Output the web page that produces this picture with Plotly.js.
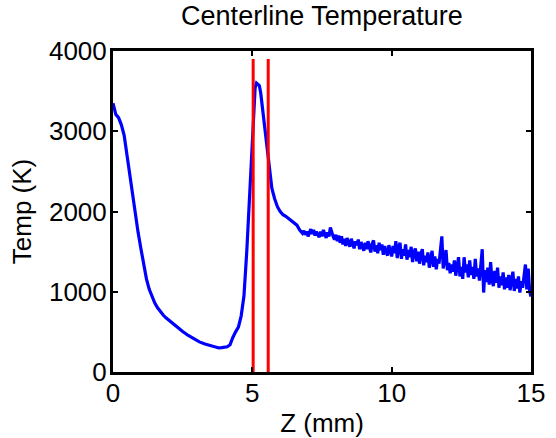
<!DOCTYPE html>
<html>
<head>
<meta charset="utf-8">
<script src="https://cdn.plot.ly/plotly-3.0.1.min.js"></script>
<style>html,body{margin:0;padding:0;background:#fff;}#chart{width:556px;height:438px;}</style>
</head>
<body>
<div id="chart"></div>
<script>
// Centerline temperature profile, Z in mm, T in K
var zMm = [0, 0.05, 0.1, 0.2, 0.3, 0.4, 0.5, 0.6, 0.7, 0.8, 0.9, 1.0, 1.1, 1.2, 1.3, 1.4, 1.5, 1.6, 1.7, 1.8, 1.9, 2.1, 2.3, 2.5, 2.7, 2.9, 3.1, 3.3, 3.5, 3.7, 3.8, 3.9,
  4.0, 4.1, 4.2, 4.25, 4.3, 4.4, 4.5, 4.6, 4.7, 4.8, 4.9, 5.0, 5.05, 5.1, 5.15, 5.2, 5.25, 5.3, 5.4, 5.5, 5.6, 5.65, 5.7, 5.8, 5.9, 6.0, 6.1, 6.2, 6.3, 6.4, 6.5, 6.6, 6.7, 6.8,
  6.85, 6.9, 6.95, 7.0, 7.05, 7.1, 7.15, 7.2, 7.25, 7.3, 7.35, 7.4, 7.45, 7.5, 7.55, 7.6, 7.65, 7.7, 7.75, 7.8, 7.85, 7.9, 7.95,
  8.0, 8.05, 8.1, 8.15, 8.2, 8.25, 8.3, 8.35, 8.4, 8.45, 8.5, 8.55, 8.6, 8.65, 8.7, 8.75, 8.8, 8.85, 8.9, 8.95,
  9.0, 9.05, 9.1, 9.15, 9.2, 9.25, 9.3, 9.35, 9.4, 9.45, 9.5, 9.55, 9.6, 9.65, 9.7, 9.75, 9.8, 9.85, 9.9, 9.95,
  10.0, 10.05, 10.1, 10.15, 10.2, 10.25, 10.3, 10.35, 10.4, 10.45, 10.5, 10.55, 10.6, 10.65, 10.7, 10.75, 10.8, 10.85, 10.9, 10.95,
  11.0, 11.05, 11.1, 11.15, 11.2, 11.25, 11.3, 11.35, 11.4, 11.45, 11.5, 11.55, 11.6, 11.65, 11.7, 11.75, 11.8, 11.85, 11.9, 11.95,
  12.0, 12.05, 12.1, 12.15, 12.2, 12.25, 12.3, 12.35, 12.4, 12.45, 12.5, 12.55, 12.6, 12.65, 12.7, 12.75, 12.8, 12.85, 12.9, 12.95,
  13.0, 13.05, 13.1, 13.15, 13.2, 13.25, 13.3, 13.35, 13.4, 13.45, 13.5, 13.55, 13.6, 13.65, 13.7, 13.75, 13.8, 13.85, 13.9, 13.95,
  14.0, 14.05, 14.1, 14.15, 14.2, 14.25, 14.3, 14.35, 14.4, 14.45, 14.5, 14.55, 14.6, 14.65, 14.7, 14.75, 14.8, 14.85, 14.9, 14.95, 15.0];
var tempK = [3350, 3280, 3210, 3170, 3080, 2950, 2700, 2420, 2180, 1960, 1740, 1540, 1340, 1160, 1030, 935, 860, 800, 750, 710, 675, 615, 560, 505, 455, 410, 375, 348, 327, 306, 300, 303,
  305, 315, 340, 390, 430, 500, 560, 700, 950, 1500, 2150, 2880, 3280, 3540, 3600, 3590, 3570, 3480, 3160, 2860, 2560, 2400, 2290, 2160, 2060, 2000, 1960, 1940, 1915, 1890, 1865, 1830, 1770, 1730,
  1760, 1710, 1750, 1690, 1740, 1780, 1720, 1770, 1700, 1750, 1710, 1680, 1750, 1690, 1770, 1710, 1670, 1740, 1690, 1800, 1730, 1690, 1650,
  1710, 1630, 1700, 1610, 1690, 1590, 1660, 1570, 1670, 1610, 1560, 1660, 1590, 1540, 1630, 1580, 1650, 1530, 1620, 1560,
  1510, 1610, 1530, 1630, 1570, 1490, 1600, 1640, 1500, 1580, 1480, 1610, 1520, 1590, 1460, 1570, 1500, 1450, 1580, 1490,
  1440, 1570, 1480, 1630, 1420, 1550, 1610, 1410, 1530, 1450, 1590, 1400, 1520, 1430, 1560, 1370, 1490, 1540, 1380, 1500,
  1350, 1470, 1530, 1330, 1450, 1370, 1490, 1300, 1430, 1510, 1310, 1440, 1280, 1410, 1350, 1550, 1690, 1290, 1430, 1520,
  1270, 1360, 1230, 1340, 1250, 1390, 1200, 1310, 1430, 1190, 1310, 1160, 1430, 1240, 1340, 1180, 1390, 1210, 1310, 1160,
  1410, 1190, 1290, 1140, 1330, 1530, 990, 1270, 1120, 1300, 1090, 1370, 1150, 1070, 1260, 1110, 1300, 1050, 1190, 1080,
  1240, 1030, 1180, 1050, 1210, 1020, 1140, 1250, 1010, 1160, 1040, 1190, 990, 1130, 1050, 1240, 1340, 1030, 1290, 1010, 940];
// Vertical marker lines
var markerZ = [5.03, 5.57];
var markerRange = [0, 3900];
var xTicks = [0, 5, 10, 15];
var yTicks = [0, 1000, 2000, 3000, 4000];

var traces = [{
  x: zMm, y: tempK, type: 'scatter', mode: 'lines',
  line: {color: '#0000ff', width: 3.2}
}];
markerZ.forEach(function (z) {
  traces.push({
    x: [z, z], y: markerRange, type: 'scatter', mode: 'lines',
    line: {color: '#ff0000', width: 3}
  });
});

var font = 'Liberation Sans, Arial, sans-serif';
var layout = {
  width: 556, height: 438,
  margin: {l: 113, r: 25, t: 51, b: 66, pad: 0},
  paper_bgcolor: '#ffffff', plot_bgcolor: '#ffffff',
  showlegend: false,
  font: {family: font, size: 26, color: '#000'},
  title: {text: 'Centerline Temperature', font: {family: font, size: 27, color: '#000'},
    x: 0.579, xanchor: 'center', y: 0.985, yanchor: 'top'},
  xaxis: {
    range: [0, 15], tickvals: xTicks, ticktext: xTicks.map(String),
    ticks: 'inside', ticklen: 5, tickwidth: 2, tickcolor: '#000',
    showline: true, linewidth: 3, linecolor: '#000', mirror: 'ticks',
    showgrid: false, zeroline: false, ticklabelstandoff: -4,
    tickfont: {family: font, size: 26, color: '#000'},
    title: {text: 'Z (mm)', font: {family: font, size: 26, color: '#000'}, standoff: 12}
  },
  yaxis: {
    range: [0, 4000], tickvals: yTicks, ticktext: yTicks.map(String),
    ticks: 'inside', ticklen: 5, tickwidth: 2, tickcolor: '#000',
    showline: true, linewidth: 3, linecolor: '#000', mirror: 'ticks',
    showgrid: false, zeroline: false, ticklabelstandoff: -2,
    tickfont: {family: font, size: 26, color: '#000'},
    title: {text: 'Temp (K)', font: {family: font, size: 26, color: '#000'}, standoff: 10}
  }
};
Plotly.newPlot('chart', traces, layout, {displayModeBar: false, staticPlot: true});
</script>
</body>
</html>
